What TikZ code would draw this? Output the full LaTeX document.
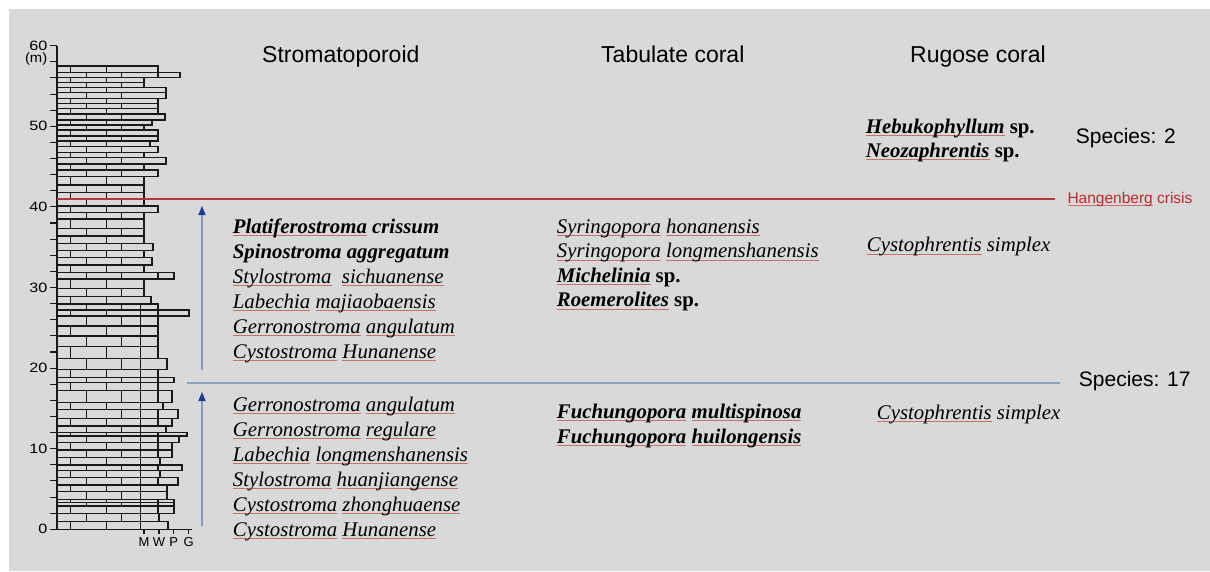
\documentclass[tikz,border=0pt]{standalone}
\usepackage{fontspec}
\setmainfont{Liberation Serif}
\setsansfont{Liberation Sans}
\usetikzlibrary{arrows.meta}
\definecolor{bg}{HTML}{D9D9D9}
\definecolor{crisisred}{HTML}{B03A3A}
\definecolor{crisistext}{HTML}{C0282D}
\definecolor{lineblue}{HTML}{8DA0C2}
\definecolor{arrowshaft}{HTML}{8598C6}
\definecolor{arrownavy}{HTML}{1F3A8A}
\definecolor{spellred}{HTML}{C87070}
\newcommand\uw[1]{\setbox0\hbox{#1}\rlap{\textcolor{spellred}{\rule[-2.6pt]{\wd0}{0.75pt}}}\box0\relax}
\begin{document}
\begin{tikzpicture}[x=1pt,y=-1pt,
  bedline/.style={draw=black!90,line width=1.1pt},
  axisline/.style={draw=black!90,line width=1.1pt},
  ticklab/.style={anchor=east,inner sep=0pt,font=\sffamily\fontsize{13.5}{14}\selectfont},
  mwpg/.style={anchor=base,inner sep=0pt,font=\sffamily\fontsize{13}{14}\selectfont},
  species/.style={anchor=base west,inner sep=0pt,font=\fontsize{20.8}{24}\selectfont\itshape},
  head/.style={anchor=base west,inner sep=0pt,font=\sffamily\fontsize{23}{26}\selectfont},
  count/.style={anchor=base west,inner sep=0pt,font=\sffamily\fontsize{21}{24}\selectfont},
  upshaft/.style={draw=arrowshaft,line width=1.5pt,-{Triangle[length=9pt,width=7pt,color=arrownavy]}}
]
\useasboundingbox (0,0) rectangle (1210,571);
\fill[white] (0,0) rectangle (1210,571);
\fill[bg] (9,9) rectangle (1210,571);

% lithologic column
\foreach \t/\b/\r [count=\i] in {66/72.7/158, 72.7/77.3/180, 77.3/82.7/144, 82.7/87.7/144, 87.7/92.7/166,
  92.7/98.3/166, 98.3/103.3/158, 103.3/108.3/158, 108.3/114/158, 114/120/165, 120/125/152, 125/130/144,
  130/136/158, 136/141/158, 141/146.7/150, 146.7/152.3/158, 152.3/157.7/144, 157.7/164/166, 164/170/144,
  170/176.7/158, 176.7/185/144, 185/192.3/144, 192.3/199.3/144, 199.3/206/144, 206/212.3/158, 212.3/219/144,
  219/228.3/144, 228.3/236/144, 236/243.3/144, 243.3/250.7/153, 250.7/257.3/144, 257.3/265/152, 265/272.3/144,
  272.3/279/174, 279/288.3/144, 288.3/296.7/144, 296.7/304/151, 304/310/158, 310/316/189, 316/326/158,
  326/336/158, 336/346.7/158, 346.7/358.3/158, 358.3/369.3/167, 369.3/377.3/158, 377.3/382.7/174,
  382.7/390.7/158, 390.7/402.3/172, 402.3/409.3/163, 409.3/418.3/178, 418.3/426/172, 426/432.7/166,
  432.7/436/187, 436/442.7/179, 442.7/450/172, 450/457.3/172, 457.3/465/160, 465/470.7/182, 470.7/477.3/160,
  477.3/485/178, 485/491.7/167, 491.7/499.3/167, 499.3/502.7/174, 502.7/506/174, 506/513.3/174,
  513.3/521.7/159, 521.7/529.3/168} {
  \draw[bedline] (57,\t) rectangle (\r,\b);
  \ifodd\i
    \draw[bedline] (70.7,\t)--(70.7,\b) (106.7,\t)--(106.7,\b);
  \else
    \draw[bedline] (86.7,\t)--(86.7,\b) (121.7,\t)--(121.7,\b);
  \fi
  \ifdim\r pt>156pt \ifnum\i>37 \draw[bedline] (140.7,\t)--(140.7,\b);\fi\fi
  \ifdim\r pt>169pt \draw[bedline] (158,\t)--(158,\b);\fi
}

% axes
\coordinate (axtop) at (57,45.7);
\coordinate (axbot) at (57,529.3);
\coordinate (axleft) at (50,529.3);
\coordinate (axright) at (192,529.3);
\draw[axisline] (axtop) -- (axbot);
\draw[axisline] (axleft) -- (axright);
\foreach \m in {2,4,...,60} {
  \draw[axisline] (50,{529.3-\m*8.06}) -- (57,{529.3-\m*8.06});
}
\foreach \m in {0,10,...,60} {
  \node[ticklab] (tl\m) at (47.5,{529.3-\m*8.06}) {\scalebox{1.2}[1]{\m}};
}
\node[ticklab] (tlm) at (47.5,59) {\scalebox{1.1}[1]{(m)}};
\foreach \x/\l in {144/M,159/W,173.7/P,188.7/G} {
  \draw[axisline] (\x,529.3) -- (\x,534);
  \node[mwpg] (g\l) at (\x,546) {\l};
}

% event lines
\coordinate (redL) at (57,199);
\coordinate (redR) at (1055,199);
\coordinate (blueL) at (187,382.7);
\coordinate (blueR) at (1060,382.7);
\draw[crisisred,line width=1.6pt] (redL) -- (redR);
\draw[lineblue,line width=1.6pt] (blueL) -- (blueR);
\node[anchor=base west,inner sep=0pt,text=crisistext,font=\sffamily\fontsize{15.5}{17}\selectfont] (crisis) at (1067.3,203.3) {\uw{Hangenberg} crisis};

% arrows
\coordinate (a1s) at (202,370);
\coordinate (a1e) at (202,206);
\coordinate (a2s) at (202,526);
\coordinate (a2e) at (202,392);
\draw[upshaft] (a1s) -- (a1e);
\draw[upshaft] (a2s) -- (a2e);

% headers
\node[head] (hS) at (262,62) {Stromatoporoid};
\node[head] (hT) at (601,62) {Tabulate coral};
\node[head] (hR) at (910,62) {Rugose coral};

% Stromatoporoid, upper
\node[species] (s1) at (232.7,233) {\textbf{\uw{Platiferostroma} crissum}};
\node[species] (s2) at (232.7,258) {\textbf{Spinostroma aggregatum}};
\node[species] (s3) at (232.7,283) {\uw{Stylostroma}\ \ \uw{sichuanense}};
\node[species] (s4) at (232.7,308) {\uw{Labechia} \uw{majiaobaensis}};
\node[species] (s5) at (232.7,333) {\uw{Gerronostroma} \uw{angulatum}};
\node[species] (s6) at (232.7,358) {\uw{Cystostroma} \uw{Hunanense}};
% Stromatoporoid, lower
\node[species] (s7) at (232.7,411) {\uw{Gerronostroma} \uw{angulatum}};
\node[species] (s8) at (232.7,436) {\uw{Gerronostroma} \uw{regulare}};
\node[species] (s9) at (232.7,461) {\uw{Labechia} \uw{longmenshanensis}};
\node[species] (s10) at (232.7,486) {\uw{Stylostroma} \uw{huanjiangense}};
\node[species] (s11) at (232.7,511) {\uw{Cystostroma} \uw{zhonghuaense}};
\node[species] (s12) at (232.7,536) {\uw{Cystostroma} \uw{Hunanense}};

% Tabulate coral
\node[species] (t1) at (556.7,233.3) {\uw{Syringopora} \uw{honanensis}};
\node[species] (t2) at (556.7,257.8) {\uw{Syringopora} \uw{longmenshanensis}};
\node[species] (t3) at (556.7,282) {\textbf{\uw{Michelinia} \upshape sp.}};
\node[species] (t4) at (556.7,306.7) {\textbf{\uw{Roemerolites} \upshape sp.}};
\node[species] (t5) at (556.7,418.3) {\textbf{\uw{Fuchungopora} \uw{multispinosa}}};
\node[species] (t6) at (556.7,443.3) {\textbf{\uw{Fuchungopora} \uw{huilongensis}}};

% Rugose coral
\node[species] (r1) at (865.7,133.3) {\textbf{\uw{Hebukophyllum} \upshape sp.}};
\node[species] (r2) at (865.7,157.3) {\textbf{\uw{Neozaphrentis} \upshape sp.}};
\node[species] (r3) at (866.7,251.7) {\uw{Cystophrentis} simplex};
\node[species] (r4) at (876.7,419.3) {\uw{Cystophrentis} simplex};

% species counts
\node[count] (c2) at (1075.7,143.3) {Species: 2};
\node[count] (c17) at (1078.7,386.7) {Species: 17};
\end{tikzpicture}
\end{document}
